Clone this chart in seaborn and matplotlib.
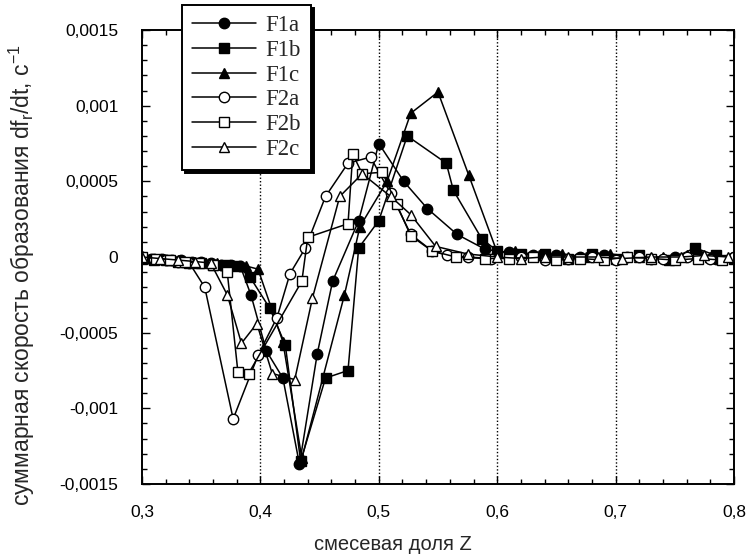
import matplotlib
matplotlib.use("Agg")
import matplotlib.pyplot as plt
from matplotlib.ticker import MultipleLocator, FuncFormatter
import seaborn as sns
import pandas as pd

# ---- data ----
f1a_x = [0.300, 0.308, 0.317, 0.325, 0.333, 0.342, 0.350, 0.358, 0.367, 0.375, 0.383,
         0.392, 0.405, 0.419, 0.433, 0.448, 0.461, 0.483, 0.500, 0.521, 0.541, 0.566, 0.590,
         0.610, 0.630, 0.650, 0.670, 0.690, 0.710, 0.730, 0.750, 0.770, 0.785, 0.800]
f1a_y = [0.0, -0.00001, -0.00001, -0.00002, -0.00002, -0.00003, -0.00003, -0.00004, -0.00005, -0.00005, -0.00006,
         -0.00025, -0.00062, -0.00080, -0.00137, -0.00064, -0.00016, 0.00024, 0.00075, 0.00050, 0.00032, 0.00015, 0.00005,
         0.00003, 0.00001, 0.00001, 0.0, 0.00001, 0.0, -0.00001, 0.0, 0.00001, -0.00001, 0.0]

f1b_x = [0.300, 0.310, 0.320, 0.330, 0.340, 0.350, 0.360, 0.370, 0.380,
         0.391, 0.408, 0.421, 0.434, 0.455, 0.474, 0.483, 0.500, 0.524, 0.557, 0.563, 0.587, 0.600,
         0.620, 0.640, 0.660, 0.680, 0.700, 0.720, 0.745, 0.767, 0.785, 0.800]
f1b_y = [-0.00001, -0.00002, -0.00002, -0.00003, -0.00004, -0.00004, -0.00005, -0.00005, -0.00006,
         -0.00013, -0.00034, -0.00058, -0.00135, -0.00080, -0.00075, 0.00006, 0.00024, 0.00080, 0.00062, 0.00044, 0.00012, 0.00004,
         0.00002, 0.00002, -0.00001, 0.00002, -0.00001, 0.00001, -0.00002, 0.00006, 0.00001, -0.00001]

f1c_x = [0.300, 0.313, 0.325, 0.338, 0.350, 0.363, 0.375, 0.388,
         0.398, 0.419, 0.435, 0.471, 0.484, 0.507, 0.527, 0.550, 0.576, 0.600,
         0.615, 0.635, 0.655, 0.675, 0.695, 0.720, 0.740, 0.760, 0.780, 0.800]
f1c_y = [0.0, -0.00001, -0.00002, -0.00003, -0.00003, -0.00004, -0.00005, -0.00006,
         -0.00008, -0.00056, -0.00133, -0.00025, 0.00020, 0.00050, 0.00095, 0.00109, 0.00054, 0.00003,
         0.00004, 0.00001, 0.00002, 0.0, 0.00002, 0.0, 0.0, 0.00001, 0.0, 0.0]

f2a_x = [0.300, 0.310, 0.320, 0.330, 0.340, 0.353, 0.377, 0.398, 0.414, 0.425, 0.438, 0.455, 0.474,
         0.493, 0.510, 0.527, 0.545, 0.558, 0.575, 0.595, 0.620, 0.640, 0.660, 0.680, 0.700, 0.720,
         0.740, 0.760, 0.780, 0.800]
f2a_y = [0.0, -0.00001, -0.00002, -0.00003, -0.00004, -0.00020, -0.00107, -0.00065, -0.00040, -0.00011, 0.00006, 0.00040, 0.00062,
         0.00066, 0.00042, 0.00015, 0.00004, 0.00001, 0.0, -0.00001, 0.0, -0.00002, -0.00001, 0.0, -0.00002, 0.0,
         -0.00001, 0.0, -0.00001, 0.0]

f2b_x = [0.300, 0.312, 0.324, 0.336, 0.348, 0.360, 0.372, 0.381, 0.390, 0.435, 0.440, 0.474, 0.478,
         0.486, 0.503, 0.515, 0.527, 0.545, 0.565, 0.590, 0.610, 0.630, 0.650, 0.670, 0.690, 0.710,
         0.730, 0.750, 0.770, 0.790]
f2b_y = [0.0, -0.00001, -0.00002, -0.00003, -0.00004, -0.00005, -0.00010, -0.00076, -0.00077, -0.00016, 0.00013, 0.00022, 0.00068,
         0.00055, 0.00056, 0.00035, 0.00014, 0.00004, 0.0, -0.00001, -0.00001, 0.0, -0.00002, -0.00001, -0.00002, 0.0,
         -0.00001, -0.00002, -0.00001, -0.00002]

f2c_x = [0.300, 0.315, 0.330, 0.345, 0.358, 0.372, 0.384, 0.397, 0.410, 0.429, 0.444, 0.467, 0.486,
         0.510, 0.527, 0.548, 0.575, 0.600, 0.620, 0.640, 0.660, 0.685, 0.705, 0.730, 0.755, 0.775, 0.795]
f2c_y = [0.0, -0.00001, -0.00002, -0.00003, -0.00004, -0.00025, -0.00057, -0.00044, -0.00077, -0.00081, -0.00027, 0.00040, 0.00055,
         0.00040, 0.00028, 0.00007, 0.00002, 0.0, -0.00001, 0.0, 0.0, 0.0, -0.00001, 0.0, 0.0, 0.00001, 0.0]

series_names = ["F1a", "F1b", "F1c", "F2a", "F2b", "F2c"]
x_ticks = [0.3, 0.4, 0.5, 0.6, 0.7, 0.8]
y_ticks = [-0.0015, -0.001, -0.0005, 0.0, 0.0005, 0.001, 0.0015]
x_label = "смесевая доля Z"
y_label = "суммарная скорость образования df$_r$/dt, c$^{-1}$"

# ---- plot ----
sns.set_style("ticks")
plt.rcParams["font.family"] = ["Liberation Sans", "DejaVu Sans"]
plt.rcParams["mathtext.fontset"] = "custom"
plt.rcParams["mathtext.rm"] = "Liberation Sans"
plt.rcParams["mathtext.it"] = "Liberation Sans"

fig = plt.figure(figsize=(7.47, 5.59), dpi=100)
ax = fig.add_axes([142 / 747, 1 - 484 / 559, (734 - 142) / 747, (484 - 30) / 559])

data = {
    "F1a": (f1a_x, f1a_y, "o", True),
    "F1b": (f1b_x, f1b_y, "s", True),
    "F1c": (f1c_x, f1c_y, "^", True),
    "F2a": (f2a_x, f2a_y, "o", False),
    "F2b": (f2b_x, f2b_y, "s", False),
    "F2c": (f2c_x, f2c_y, "^", False),
}

for name in series_names:
    xs, ys, mk, filled = data[name]
    df = pd.DataFrame({"x": xs, "y": ys})
    sns.lineplot(data=df, x="x", y="y", ax=ax, estimator=None, sort=False,
                 color="black", linewidth=1.1, marker=mk, markersize=7.5,
                 markerfacecolor="black" if filled else "white",
                 markeredgecolor="black", markeredgewidth=1.0, label=name)

for gx in [0.4, 0.5, 0.6, 0.7]:
    ax.axvline(gx, color="black", linestyle=(0, (1, 1.5)), linewidth=1.0, zorder=0)

ax.set_xlim(0.3, 0.8)
ax.set_ylim(-0.0015, 0.0015)
ax.set_xticks(x_ticks)
ax.set_yticks(y_ticks)
ax.xaxis.set_minor_locator(MultipleLocator(0.02))
ax.yaxis.set_minor_locator(MultipleLocator(0.0001))
fmt = FuncFormatter(lambda v, p: ("0" if abs(v) < 1e-12 else f"{v:g}").replace(".", ","))
ax.xaxis.set_major_formatter(fmt)
ax.yaxis.set_major_formatter(fmt)
ax.tick_params(which="both", direction="in", top=True, right=True, colors="black",
               labelsize=12.5)
ax.tick_params(axis="y", which="major", length=6, width=1.0, pad=17)
ax.tick_params(axis="x", which="major", length=6, width=1.0, pad=15)
ax.tick_params(which="minor", length=3.5, width=1.0)
for s in ax.spines.values():
    s.set_linewidth(1.4)
    s.set_color("black")

ax.set_xlabel(x_label, fontsize=14.5)
ax.set_ylabel(y_label, fontsize=16.5)
ax.yaxis.set_label_coords((37 - 142) / 592, (484 - 275) / 454)
ax.xaxis.set_label_coords((393 - 142) / 592, (484 - 535) / 454)

leg = ax.legend(loc="upper left", bbox_to_anchor=(182 / 747, 1 - 5 / 559), bbox_transform=fig.transFigure,
                frameon=True, fancybox=False, shadow={"color": "black", "alpha": 1.0},
                prop={"family": "Liberation Serif", "size": 16.5}, handlelength=2.8,
                labelspacing=0.16, borderpad=0.45, handletextpad=0.4, borderaxespad=0.0)
leg.get_frame().set_edgecolor("black")
leg.get_frame().set_linewidth(1.4)
leg.get_frame().set_alpha(1.0)

fig.savefig("out.png", dpi=100, facecolor="white")
